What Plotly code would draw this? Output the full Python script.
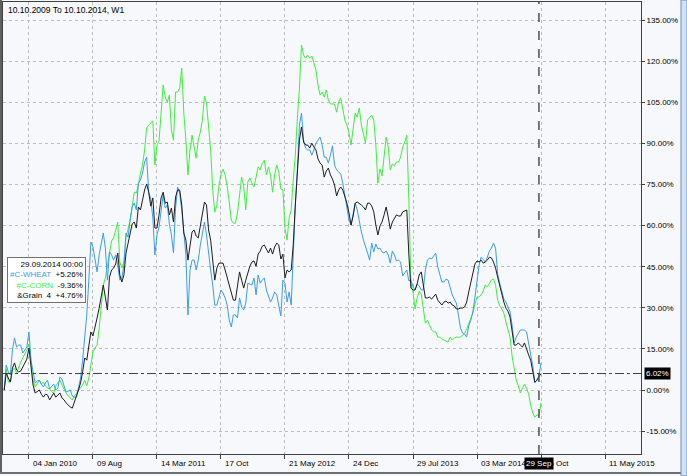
import plotly.graph_objects as go
import pandas as pd

# ---------------- data (weekly, % change since 10.10.2009) ----------------
start_week = "2009-10-12"

wheat = [
    0.0, 9.1, 6.6, 5.5, 14.6, 19.0, 15.7, 16.4, 16.4, 13.5,
    14.6, 15.7, 21.2, 10.9, 6.6, 2.6, 3.3, 3.6, 2.2, 1.1,
    2.6, 3.6, 0.4, 1.5, 2.2, 0.0, 0.7, 4.7, 4.0, 1.5,
    -0.7, -0.4, 0.0, -2.2, -2.6, -2.6, 0.7, 4.4, 10.9, 18.2,
    27.4, 40.1, 54.0, 52.2, 46.7, 43.1, 49.3, 52.9, 57.3, 51.8,
    40.1, 50.4, 49.3, 47.4, 49.3, 45.6, 40.1, 40.9, 45.6, 57.3,
    55.8, 62.0, 66.8, 68.2, 65.7, 75.5, 76.6, 79.2, 83.2, 85.0,
    72.2, 69.7, 62.8, 49.3, 56.6, 59.5, 66.4, 71.1, 66.4, 67.5,
    60.6, 56.6, 50.0, 66.4, 74.1, 71.9, 65.7, 56.6, 49.3, 27.4,
    43.8, 47.4, 47.4, 43.8, 47.4, 52.9, 57.7, 61.3, 56.6, 49.3,
    43.8, 38.3, 31.0, 31.0, 33.9, 36.5, 35.4, 33.6, 31.0, 25.5,
    23.0, 27.4, 27.4, 26.3, 33.6, 30.3, 29.2, 31.7, 39.0, 38.7,
    38.3, 40.9, 34.7, 42.0, 39.0, 40.1, 40.9, 36.5, 33.9, 32.1,
    33.6, 35.8, 34.7, 31.0, 27.0, 40.1, 39.0, 32.1, 35.8, 31.0,
    51.1, 67.5, 80.3, 96.7, 101.1, 91.2, 88.3, 87.6, 87.6, 85.7,
    87.6, 90.1, 91.2, 92.3, 89.4, 85.0, 85.0, 82.8, 85.7, 89.1,
    82.1, 80.3, 79.6, 78.8, 75.5, 70.8, 67.5, 62.0, 60.2, 63.9,
    68.2, 65.7, 61.3, 57.7, 54.7, 51.8, 50.0, 47.4, 53.6, 50.4,
    53.3, 51.5, 51.8, 50.4, 50.0, 50.7, 49.3, 46.3, 50.7, 49.3,
    47.1, 47.4, 46.7, 41.6, 42.7, 43.8, 39.8, 40.1, 37.6, 36.5,
    38.7, 38.0, 36.5, 36.5, 43.8, 47.4, 48.2, 47.8, 48.9, 50.0,
    44.9, 41.6, 39.4, 39.4, 40.5, 40.1, 37.6, 34.7, 33.2, 31.7,
    27.4, 22.6, 20.8, 20.4, 19.3, 23.4, 25.5, 28.5, 33.9, 40.9,
    45.6, 48.5, 47.4, 46.7, 48.5, 50.7, 51.8, 53.6, 51.8, 42.3,
    39.0, 36.5, 33.2, 32.1, 30.3, 28.5, 23.7, 17.2, 19.3, 20.8,
    21.9, 21.9, 21.9, 21.2, 16.8, 13.1, 8.8, 2.6, 3.5, 5.26,
    9.9,
]

corn = [
    0.0, 7.7, 2.9, 2.9, 7.3, 8.0, 6.2, 8.4, 10.2, 11.7,
    13.1, 14.6, 16.8, 8.8, 3.6, 1.1, 2.6, 3.6, 2.2, 2.9,
    1.5, 0.7, 0.4, -0.7, -1.1, 1.5, 2.6, 3.6, 1.8, 0.0,
    -1.1, -2.2, -2.9, -3.6, -2.2, -1.1, 0.0, 1.1, 1.8, 3.6,
    1.5, 4.4, 9.9, 13.9, 15.3, 16.4, 22.6, 31.0, 38.3, 40.9,
    45.2, 50.4, 54.4, 55.5, 58.4, 61.3, 46.7, 44.5, 46.7, 55.8,
    58.7, 62.0, 67.1, 72.2, 71.9, 74.8, 79.2, 82.1, 87.6, 95.6,
    96.7, 97.4, 98.2, 82.1, 89.4, 90.9, 100.3, 111.3, 106.9, 105.1,
    107.6, 94.9, 91.2, 108.7, 108.7, 110.2, 117.5, 101.1, 91.2, 78.5,
    87.6, 93.0, 88.7, 84.6, 91.2, 94.1, 98.5, 107.3, 104.7, 95.6,
    87.6, 73.0, 64.9, 67.5, 74.8, 78.8, 80.6, 78.5, 74.4, 68.6,
    62.0, 60.9, 60.9, 64.6, 72.2, 77.7, 74.4, 65.7, 75.9, 77.4,
    75.5, 74.1, 77.7, 81.4, 80.3, 82.8, 83.9, 78.5, 81.4, 78.5,
    72.2, 78.5, 82.1, 79.6, 73.3, 73.0, 59.1, 54.7, 62.8, 65.7,
    76.6, 85.8, 99.2, 110.2, 125.9, 122.2, 121.1, 122.2, 121.1, 121.9,
    119.3, 116.8, 111.3, 107.6, 108.7, 106.9, 109.5, 105.8, 104.4, 104.4,
    104.4, 101.4, 105.1, 106.6, 102.2, 98.5, 96.7, 93.8, 89.4, 95.6,
    101.1, 99.6, 102.9, 96.7, 93.8, 90.1, 98.5, 99.6, 100.3, 98.5,
    89.4, 75.5, 80.7, 78.1, 85.8, 92.3, 88.7, 80.3, 82.5, 81.8,
    83.2, 83.2, 85.0, 88.7, 90.5, 93.0, 69.3, 39.0, 35.8, 29.6,
    33.6, 36.1, 35.0, 29.2, 24.4, 25.5, 23.7, 21.9, 21.2, 21.2,
    19.3, 19.3, 18.6, 18.2, 17.9, 17.5, 19.3, 18.2, 19.0, 19.3,
    19.3, 19.3, 20.1, 20.8, 22.3, 24.1, 26.3, 28.1, 31.4, 33.9,
    33.9, 34.7, 36.1, 38.3, 37.6, 39.0, 40.1, 40.5, 38.3, 32.8,
    30.7, 29.6, 28.1, 24.8, 21.9, 19.3, 12.4, 7.3, 3.6, 1.5,
    -1.1, 0.7, 2.2, 0.7, -1.5, -5.5, -8.4, -9.9, -9.1, -9.36,
    -4.7,
]

grain = [
    0.0, 6.2, 4.4, 2.9, 8.0, 9.9, 7.3, 6.6, 6.9, 8.4,
    9.5, 11.3, 15.3, 7.3, 1.8, -1.1, -0.4, 0.0, -1.5, -2.6,
    -1.5, -1.8, -3.6, -2.2, -1.1, -2.6, -1.8, -1.1, -2.9, -3.6,
    -4.7, -5.5, -6.2, -6.6, -4.0, -2.2, 0.0, 2.6, 6.6, 11.7,
    10.9, 16.4, 21.2, 19.7, 22.6, 26.3, 29.9, 34.7, 38.3, 33.9,
    29.2, 41.2, 43.8, 44.5, 46.0, 50.0, 42.0, 39.4, 42.0, 50.0,
    54.0, 57.7, 60.6, 61.3, 59.1, 66.8, 65.7, 69.3, 73.0, 75.2,
    72.2, 67.1, 70.1, 59.1, 59.1, 63.9, 70.1, 72.2, 68.2, 68.6,
    63.9, 66.4, 61.3, 70.4, 73.0, 73.0, 67.5, 57.3, 54.7, 47.4,
    52.2, 57.7, 58.4, 56.2, 55.5, 59.9, 63.9, 68.6, 67.5, 58.4,
    54.7, 48.5, 40.1, 44.5, 46.3, 46.3, 46.3, 43.8, 40.9, 37.6,
    35.0, 32.8, 32.8, 37.2, 43.1, 40.1, 37.2, 40.1, 43.1, 45.2,
    46.7, 47.1, 45.2, 49.6, 50.7, 52.5, 52.9, 51.5, 50.0, 51.8,
    49.6, 52.2, 53.6, 52.9, 47.8, 49.6, 40.9, 43.8, 43.1, 43.8,
    52.9, 67.5, 79.6, 91.2, 96.0, 90.5, 89.4, 89.4, 88.3, 90.1,
    88.7, 87.6, 84.3, 82.8, 82.1, 77.7, 79.9, 81.0, 78.5, 77.0,
    74.8, 70.8, 73.0, 74.1, 73.0, 70.8, 68.2, 64.6, 60.2, 63.5,
    68.2, 68.6, 68.2, 67.5, 66.8, 65.7, 68.2, 68.2, 67.2, 65.0,
    60.2, 56.6, 59.9, 61.3, 63.9, 66.8, 63.1, 58.7, 61.3, 62.8,
    63.9, 63.5, 63.5, 65.0, 65.3, 65.7, 49.3, 37.2, 36.5, 36.5,
    38.7, 42.0, 43.1, 38.7, 33.6, 33.6, 33.9, 33.2, 34.3, 35.0,
    32.8, 31.7, 31.0, 32.1, 32.5, 31.7, 32.1, 31.0, 30.7, 29.6,
    29.6, 29.9, 29.9, 30.3, 32.1, 35.8, 39.0, 43.1, 46.0, 47.1,
    46.7, 47.4, 46.3, 46.7, 47.4, 48.5, 48.2, 46.7, 44.5, 41.2,
    38.0, 35.4, 32.1, 29.9, 28.8, 26.6, 22.3, 16.4, 16.4, 17.2,
    16.4, 15.7, 17.2, 14.6, 12.8, 10.9, 7.3, 2.9, 3.6, 4.76,
    6.02,
]

x_tick_dates = ["2010-01-04", "2010-08-09", "2011-03-14", "2011-10-17", "2012-05-21",
                "2012-12-24", "2013-07-29", "2014-03-03", "2014-10-06", "2015-05-11"]
x_tick_labels = ["04 Jan 2010", "09 Aug", "14 Mar 2011", "17 Oct", "21 May 2012",
                 "24 Dec", "29 Jul 2013", "03 Mar 2014", "06 Oct", "11 May 2015"]
y_ticks = [-15, 0, 15, 30, 45, 60, 75, 90, 105, 120, 135]
y_tick_labels = [f"{v:.2f}%" for v in y_ticks]

title_text = "10.10.2009 To 10.10.2014, W1"
cursor_date = "2014-09-29"
series_names = ["#C-WHEAT", "#C-CORN", "&amp;Grain  4"]

# ---------------- figure ----------------
dates = pd.date_range(start_week, periods=len(grain), freq="7D")
cursor_idx = list(dates).index(pd.Timestamp(cursor_date))
last_value = grain[-1]

C_WHEAT = "#3a9cf2"
C_CORN = "#3cf03c"
C_GRAIN = "#1c1c1c"
FONT = "Liberation Sans, Arial, sans-serif"
FS = 8

W, H = 687, 476
ML, MR, MT, MB = 3, 46, 2, 22
PW, PH = W - ML - MR, H - MT - MB


def px(xpix):
    return (xpix - ML) / PW


def py(ypix):
    return (H - MB - ypix) / PH


fig = go.Figure()
for vals, color, name in [(corn, C_CORN, "corn"), (wheat, C_WHEAT, "wheat"), (grain, C_GRAIN, "grain")]:
    fig.add_trace(go.Scatter(x=dates, y=vals, mode="lines", name=name,
                             line=dict(color=color, width=1), hoverinfo="skip"))

annotations = []
# title
annotations.append(dict(text=title_text, x=px(6), y=py(10), xref="paper", yref="paper",
                        xanchor="left", yanchor="middle", showarrow=False,
                        font=dict(family=FONT, size=FS + 0.5, color="#000000")))
# x tick labels (left aligned after tick)
for d, lab in zip(x_tick_dates, x_tick_labels):
    annotations.append(dict(text=lab, x=d, y=py(464), xref="x", yref="paper",
                            xanchor="left", yanchor="middle", xshift=2, showarrow=False,
                            font=dict(family=FONT, size=FS, color="#000000")))
# cursor date label
annotations.append(dict(text=pd.Timestamp(cursor_date).strftime("%d %b"), x=cursor_date,
                        y=py(464), xref="x", yref="paper", xanchor="center", yanchor="middle",
                        showarrow=False, bgcolor="#000000", borderpad=1,
                        font=dict(family=FONT, size=FS, color="#ffffff")))
# last value label on right axis
annotations.append(dict(text=f"{last_value:.2f}%", x=1, y=last_value, xref="paper", yref="y",
                        xanchor="left", yanchor="middle", xshift=3, showarrow=False,
                        bgcolor="#000000", borderpad=1,
                        font=dict(family=FONT, size=FS, color="#ffffff")))
# data window box
vals_at = [wheat[cursor_idx], corn[cursor_idx], grain[cursor_idx]]
lines = [pd.Timestamp(cursor_date).strftime("%d.%m.%Y 00:00")]
lines.append(f"<span style='color:{C_WHEAT}'>{series_names[0]}</span>  {vals_at[0]:+.2f}%")
lines.append(f"<span style='color:{C_CORN}'>{series_names[1]}</span>  {vals_at[1]:+.2f}%")
lines.append(f"{series_names[2]}  {vals_at[2]:+.2f}%")
annotations.append(dict(text="<br>".join(lines), x=px(7), y=py(257), xref="paper", yref="paper",
                        xanchor="left", yanchor="top", align="right", showarrow=False,
                        bgcolor="#ffffff", bordercolor="#707070", borderwidth=1, borderpad=2,
                        font=dict(family=FONT, size=FS, color="#000000")))

shapes = [
    # cursor vertical dashed line
    dict(type="line", xref="x", yref="paper", x0=cursor_date, x1=cursor_date, y0=0, y1=1,
         line=dict(color="#505050", width=1.5, dash="dash")),
    # last value horizontal dash-dot line
    dict(type="line", xref="paper", yref="y", x0=0, x1=1, y0=last_value, y1=last_value,
         line=dict(color="#404040", width=1, dash="dashdot")),
    # outer window frame
    dict(type="line", xref="paper", yref="paper", x0=px(1), x1=px(1), y0=py(474), y1=py(0),
         line=dict(color="#606060", width=2)),
    dict(type="line", xref="paper", yref="paper", x0=px(0), x1=px(681), y0=py(473), y1=py(473),
         line=dict(color="#707070", width=2)),
    dict(type="rect", xref="paper", yref="paper", x0=px(681), x1=px(687), y0=py(476), y1=py(0),
         fillcolor="#d3e1f3", line=dict(color="#6d8fbf", width=1)),
]

fig.update_layout(
    width=W, height=H,
    margin=dict(l=ML, r=MR, t=MT, b=MB, pad=0),
    paper_bgcolor="#f7f8fb",
    plot_bgcolor="#f7f8fc",
    showlegend=False,
    font=dict(family=FONT, size=FS, color="#000000"),
    annotations=annotations,
    shapes=shapes,
    xaxis=dict(type="date", range=["2009-10-08", "2015-09-10"],
               tickvals=x_tick_dates, showticklabels=False,
               ticks="outside", ticklen=4, tickcolor="#404040",
               showgrid=True, gridcolor="#bdbdbd", griddash="dot", gridwidth=1,
               showline=True, linecolor="#404040", linewidth=1, mirror=True,
               zeroline=False, fixedrange=True),
    yaxis=dict(side="right", range=[-23.35, 141.6],
               tickvals=y_ticks, ticktext=y_tick_labels,
               ticks="outside", ticklen=3, tickcolor="#404040",
               tickfont=dict(family=FONT, size=FS, color="#000000"),
               showgrid=True, gridcolor="#bdbdbd", griddash="dot", gridwidth=1,
               showline=True, linecolor="#404040", linewidth=1, mirror=True,
               zeroline=False, fixedrange=True),
)

fig.write_html("out.html", config={"displayModeBar": False},
               post_script="document.body.style.margin='0';")
